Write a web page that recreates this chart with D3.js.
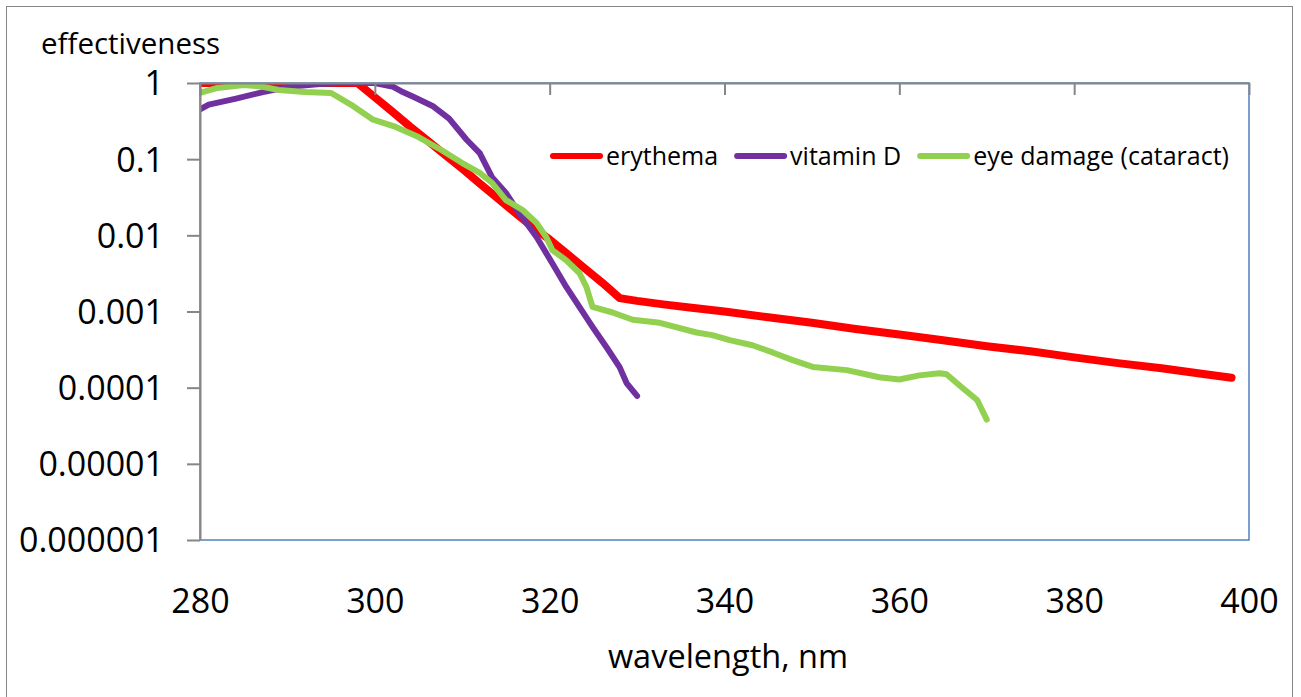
<!DOCTYPE html>
<html><head><meta charset="utf-8">
<script src="https://cdn.jsdelivr.net/npm/d3@7"></script>
<style>
html,body{margin:0;padding:0;background:#fff;}
svg{display:block;}
text{font-family:"Open Sans","Noto Sans",sans-serif;fill:#000;}
</style></head>
<body>
<svg id="chart" width="1301" height="697"></svg>
<script>
// ---- data ----
const xTickValues = [280, 300, 320, 340, 360, 380, 400];
const xTickLabels = ["280", "300", "320", "340", "360", "380", "400"];
const yTickValues = [1, 0.1, 0.01, 0.001, 0.0001, 0.00001, 0.000001];
const yTickLabels = ["1", "0.1", "0.01", "0.001", "0.0001", "0.00001", "0.000001"];
const seriesNames = ["erythema", "vitamin D", "eye damage (cataract)"];

const erythemaWl = [280, 290, 298, 300, 302, 304, 306, 308, 310, 312, 314, 316, 318, 320, 322, 324, 326, 328, 330, 333, 336, 340, 345, 350, 355, 360, 365, 370, 375, 380, 385, 390, 395, 398];
const erythemaVal = [1, 1, 1, 0.65, 0.42, 0.27, 0.177, 0.115, 0.075, 0.048, 0.031, 0.02, 0.013, 0.0088, 0.0057, 0.0037, 0.0024, 0.0015, 0.00138, 0.00124, 0.00113, 0.00100, 0.00084, 0.00071, 0.00059, 0.00050, 0.00042, 0.00035, 0.00030, 0.00025, 0.00021, 0.00018, 0.00015, 0.000135];

const vitDWl = [280, 281, 284, 287.2, 290.2, 293.7, 296, 300, 302, 303, 304.4, 306.6, 308.5, 310.5, 312, 313.4, 315, 316.5, 318.5, 320.3, 321.9, 323.4, 324.9, 326.5, 328, 328.8, 330];
const vitDVal = [0.45, 0.52, 0.62, 0.76, 0.89, 0.97, 1, 1, 0.90, 0.78, 0.66, 0.50, 0.34, 0.18, 0.12, 0.058, 0.036, 0.0196, 0.0095, 0.0043, 0.0021, 0.00115, 0.00063, 0.00034, 0.000186, 0.000115, 0.000078];

const eyeWl = [280, 282, 285, 287, 289, 292, 295, 297.5, 299.8, 302.4, 305, 307.7, 310, 312, 313.4, 315, 316.9, 318.5, 319.6, 320.3, 321.9, 323.4, 324.2, 324.9, 327.2, 329.5, 332.6, 336.8, 338.6, 340.6, 343.2, 345.5, 347.8, 350.1, 354, 357.7, 360, 362.3, 364.6, 365.4, 367.2, 368.9, 370];
const eyeVal = [0.74, 0.86, 0.94, 0.90, 0.81, 0.76, 0.74, 0.50, 0.33, 0.265, 0.195, 0.13, 0.089, 0.066, 0.049, 0.029, 0.0215, 0.0145, 0.0095, 0.0064, 0.0047, 0.0032, 0.0021, 0.00115, 0.00097, 0.00078, 0.00071, 0.00053, 0.00049, 0.00042, 0.00036, 0.00029, 0.00023, 0.000187, 0.00017, 0.000137, 0.000128, 0.000145, 0.000155, 0.00015, 0.0001, 0.000069, 0.000038];

// ---- layout ----
const svg = d3.select("#chart");
const L = 200, R = 1249, T = 83, B = 540;
const x = d3.scaleLinear().domain([280, 400]).range([L, R]);
const y = d3.scaleLog().domain([0.000001, 1]).range([B, T]);

// outer chart border
svg.append("rect").attr("x", 6.5).attr("y", 6.5).attr("width", 1286).attr("height", 700)
  .attr("fill", "none").attr("stroke", "#868686").attr("stroke-width", 1);

// plot area border (blue)
svg.append("rect").attr("x", L).attr("y", T).attr("width", R - L).attr("height", B - T)
  .attr("fill", "none").attr("stroke", "#4F81BD").attr("stroke-width", 1.5);

// clip
svg.append("clipPath").attr("id", "clip").append("rect")
  .attr("x", L).attr("y", T).attr("width", R - L + 10).attr("height", B - T);

const series = [
  {name: seriesNames[0], wl: erythemaWl, val: erythemaVal, color: "#FF0000", w: 8},
  {name: seriesNames[1], wl: vitDWl, val: vitDVal, color: "#7030A0", w: 6},
  {name: seriesNames[2], wl: eyeWl, val: eyeVal, color: "#92D050", w: 6}
];

const line = d3.line().x(d => x(d[0])).y(d => y(d[1]));
const g = svg.append("g").attr("clip-path", "url(#clip)");
series.forEach(s => {
  g.append("path").datum(d3.zip(s.wl, s.val)).attr("d", line)
    .attr("fill", "none").attr("stroke", s.color).attr("stroke-width", s.w)
    .attr("stroke-linejoin", "round").attr("stroke-linecap", "round");
});

// x axis line at top (crosses at 1) with downward ticks
const xAxisTop = svg.append("g").attr("transform", `translate(0,${T})`)
  .call(d3.axisBottom(x).tickValues(xTickValues).tickSize(12).tickSizeOuter(0).tickFormat(""));
xAxisTop.select(".domain").attr("stroke", "#868686").attr("stroke-width", 2);
xAxisTop.selectAll(".tick line").attr("stroke", "#868686").attr("stroke-width", 2);

// x tick labels at bottom
const xLab = svg.append("g").attr("transform", `translate(0,${B})`)
  .call(d3.axisBottom(x).tickValues(xTickValues).tickSize(0).tickPadding(50)
    .tickFormat((d, i) => xTickLabels[i]));
xLab.select(".domain").remove();
xLab.selectAll("text").attr("font-size", 34).attr("font-family", "'Open Sans',sans-serif").attr("dy", 0).attr("y", 73);

// y axis
const yAx = svg.append("g").attr("transform", `translate(${L},0)`)
  .call(d3.axisLeft(y).tickValues(yTickValues).tickSize(13).tickSizeOuter(0).tickPadding(23)
    .tickFormat((d, i) => yTickLabels[i]));
yAx.select(".domain").attr("stroke", "#868686").attr("stroke-width", 2);
yAx.selectAll(".tick line").attr("stroke", "#868686").attr("stroke-width", 2);
yAx.selectAll("text").attr("font-size", 34).attr("font-family", "'Open Sans',sans-serif").attr("dy", "0.35em");

// axis titles
svg.append("text").attr("x", 41).attr("y", 54).attr("font-size", 29.5).text("effectiveness");
svg.append("text").attr("x", 728).attr("y", 668).attr("text-anchor", "middle").attr("font-size", 32.5).text("wavelength, nm");

// legend
const leg = svg.append("g");
let lx = 553;
const ly = 156;
series.forEach(s => {
  leg.append("line").attr("x1", lx).attr("x2", lx + 47).attr("y1", ly).attr("y2", ly)
    .attr("stroke", s.color).attr("stroke-width", 6).attr("stroke-linecap", "round");
  const t = leg.append("text").attr("x", lx + 53).attr("y", ly).attr("dy", "0.35em")
    .attr("font-size", 25).text(s.name);
  lx = lx + 53 + t.node().getComputedTextLength() + 19;
});
</script>
</body></html>
